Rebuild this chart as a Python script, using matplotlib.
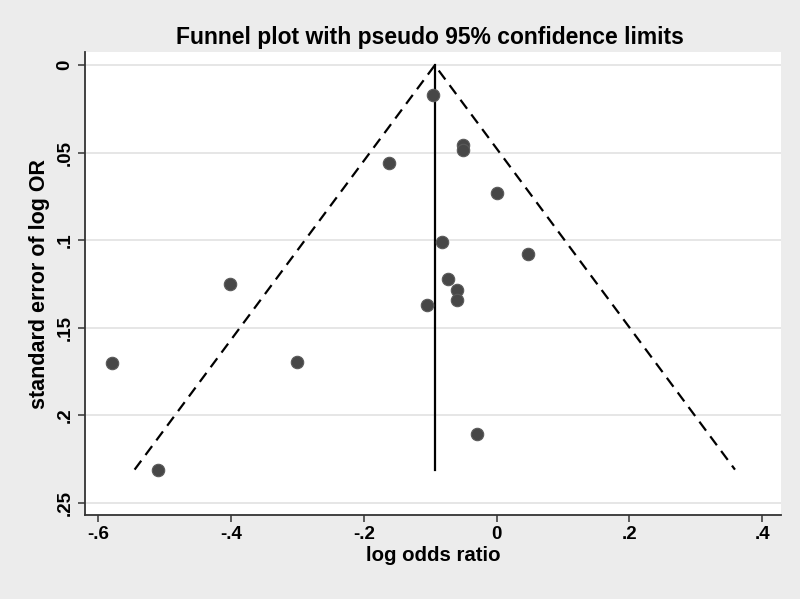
import matplotlib.pyplot as plt

# study estimates
log_or = [-0.096, -0.051, -0.051, -0.162, 0.0, -0.0825, 0.048, -0.402,
          -0.0735, -0.060, -0.060, -0.105, -0.579, -0.301, -0.030, -0.510]
se_log_or = [0.017, 0.0457, 0.0485, 0.0559, 0.0731, 0.101, 0.108, 0.125,
             0.122, 0.1284, 0.1341, 0.137, 0.170, 0.1695, 0.2106, 0.231]

# pooled estimate and pseudo 95% limits
pooled = -0.093
funnel_x = [-0.545, -0.093, 0.359]
funnel_se = [0.231, 0.0, 0.231]

x_ticks = [-0.6, -0.4, -0.2, 0.0, 0.2, 0.4]
x_labels = ['-.6', '-.4', '-.2', '0', '.2', '.4']
y_ticks = [0, 0.05, 0.1, 0.15, 0.2, 0.25]
y_labels = ['0', '.05', '.1', '.15', '.2', '.25']

plt.rcParams['font.family'] = ['Liberation Sans', 'DejaVu Sans']
plt.rcParams['font.weight'] = 'bold'

fig = plt.figure(figsize=(8, 5.99), dpi=100, facecolor='#ececec')
ax = fig.add_axes([0.106, 0.140, 0.870, 0.773])
ax.set_facecolor('white')

# horizontal grid
for yt in y_ticks:
    ax.axhline(yt, color='#e2e2e2', lw=1.2, zorder=0)

ax.plot(funnel_x, funnel_se, color='black', lw=1.6, ls=(0, (5, 3.2)), zorder=2)
ax.plot([pooled, pooled], [0, max(se_log_or)], color='black', lw=1.6, zorder=2)
ax.scatter(log_or, se_log_or, s=80, color='#474747', edgecolors='#5a5a5a',
           linewidths=0.8, zorder=3)

ax.set_xlim(-0.62, 0.428)
ax.set_ylim(0.257, -0.0075)

ax.set_xticks(x_ticks)
ax.set_xticklabels(x_labels, fontsize=13.5, fontweight='bold')
ax.set_yticks(y_ticks)
ax.set_yticklabels(y_labels, fontsize=13.5, fontweight='bold', rotation=90,
                   va='center')
ax.tick_params(direction='out', length=5, width=1.1, color='#333333', pad=3)

for side in ['top', 'right']:
    ax.spines[side].set_visible(False)
for side in ['left', 'bottom']:
    ax.spines[side].set_color('#333333')
    ax.spines[side].set_linewidth(1.3)

ax.set_xlabel('log odds ratio', fontsize=14.7, fontweight='bold', labelpad=2)
ax.set_ylabel('standard error of log OR', fontsize=15.5, fontweight='bold',
              labelpad=5)
fig.text(0.537, 0.938, 'Funnel plot with pseudo 95% confidence limits',
         ha='center', va='center', fontsize=16.5, fontweight='bold')

plt.savefig('out.png', dpi=100, facecolor=fig.get_facecolor())
